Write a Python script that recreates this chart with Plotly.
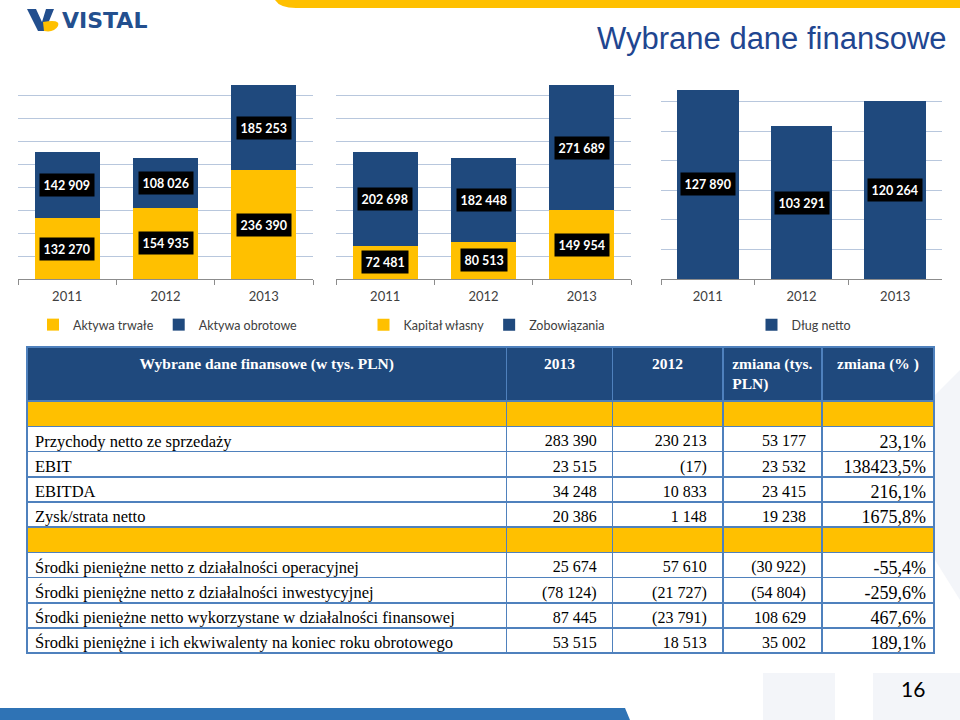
import plotly.graph_objects as go

# ---------------- data ----------------
years = ["2011", "2012", "2013"]
aktywa_trwale = [132270, 154935, 236390]
aktywa_obrotowe = [142909, 108026, 185253]
kapital_wlasny = [72481, 80513, 149954]
zobowiazania = [202698, 182448, 271689]
dlug_netto = [127890, 103291, 120264]

table_header = ["Wybrane dane finansowe (w tys. PLN)", "2013", "2012",
                "zmiana (tys.<br>PLN)", "zmiana (% )"]
row_labels = ["", "Przychody netto ze sprzedaży", "EBIT", "EBITDA", "Zysk/strata netto", "",
              "Środki pieniężne netto z działalności operacyjnej",
              "Środki pieniężne netto z działalności inwestycyjnej",
              "Środki pieniężne netto wykorzystane w działalności finansowej",
              "Środki pieniężne i ich ekwiwalenty na koniec roku obrotowego"]
col_2013 = ["", "283 390", "23 515", "34 248", "20 386", "", "25 674", "(78 124)", "87 445", "53 515"]
col_2012 = ["", "230 213", "(17)", "10 833", "1 148", "", "57 610", "(21 727)", "(23 791)", "18 513"]
col_zmiana = ["", "53 177", "23 532", "23 415", "19 238", "", "(30 922)", "(54 804)", "108 629", "35 002"]
col_zmiana_pct = ["", "23,1%", "138423,5%", "216,1%", "1675,8%", "", "-55,4%", "-259,6%", "467,6%", "189,1%"]

# ---------------- style ----------------
W, H = 960, 720
YELLOW = "#FFC000"
BLUE = "#1F497D"
GRID = "#B8C7DD"
TXT = "#404040"
SANS = "Lato, Open Sans, sans-serif"
SERIF = "Liberation Serif, Times New Roman, serif"


def px(x):
    return x / W


def py(y):
    return 1 - y / H


def fmt(v):
    return f"{v:,}".replace(",", " ")


fig = go.Figure()

# chart 1
fig.add_trace(go.Bar(x=years, y=aktywa_trwale, name="Aktywa trwałe", marker_color=YELLOW,
                     xaxis="x", yaxis="y", legend="legend"))
fig.add_trace(go.Bar(x=years, y=aktywa_obrotowe, name="Aktywa obrotowe", marker_color=BLUE,
                     xaxis="x", yaxis="y", legend="legend"))
# chart 2
fig.add_trace(go.Bar(x=years, y=kapital_wlasny, name="Kapitał własny", marker_color=YELLOW,
                     xaxis="x2", yaxis="y2", legend="legend2"))
fig.add_trace(go.Bar(x=years, y=zobowiazania, name="Zobowiązania", marker_color=BLUE,
                     xaxis="x2", yaxis="y2", legend="legend2"))
# chart 3
fig.add_trace(go.Bar(x=years, y=dlug_netto, name="Dług netto", marker_color=BLUE,
                     xaxis="x3", yaxis="y3", legend="legend3"))

for tr in fig.data:
    tr.marker.line.width = 0
    tr.width = 0.66

# data labels (black boxes)
annotations = []


def add_labels(xref, yref, stacks):
    base = [0] * len(years)
    for series in stacks:
        for i, v in enumerate(series):
            annotations.append(dict(
                x=i, y=base[i] + v / 2, xref=xref, yref=yref,
                text=f"<b>{fmt(v)}</b>", showarrow=False,
                font=dict(family=SANS, size=12.5, color="white"),
                bgcolor="black", borderpad=3.5))
            base[i] += v


add_labels("x", "y", [aktywa_trwale, aktywa_obrotowe])
add_labels("x2", "y2", [kapital_wlasny, zobowiazania])
add_labels("x3", "y3", [dlug_netto])

ydom = [py(279), py(72)]
xdoms = [[px(18), px(313)], [px(336), px(631)], [px(661), px(942)]]
yranges = [[0, 450000], [0, 450000], [0, 140000]]
dticks = [50000, 50000, 20000]

layout_axes = {}
for k in range(3):
    sfx = "" if k == 0 else str(k + 1)
    layout_axes["xaxis" + sfx] = dict(
        domain=xdoms[k], anchor="y" + sfx, type="category",
        range=[-0.5, len(years) - 0.5],
        showline=True, linecolor="#8C8C8C", linewidth=1,
        ticks="outside", tickson="boundaries", ticklen=5, tickcolor="#8C8C8C",
        ticklabelstandoff=5,
        tickfont=dict(family=SANS, size=13, color=TXT), tickangle=0,
        showgrid=False, fixedrange=True)
    layout_axes["yaxis" + sfx] = dict(
        domain=ydom, anchor="x" + sfx, range=yranges[k], dtick=dticks[k],
        showticklabels=False, showgrid=True, gridcolor=GRID, gridwidth=1,
        zeroline=False, showline=False, fixedrange=True)

legend_common = dict(orientation="h", xanchor="center", yanchor="middle",
                     traceorder="normal",
                     bgcolor="rgba(0,0,0,0)", font=dict(family=SANS, size=12.5, color=TXT),
                     itemwidth=30, tracegroupgap=0)

# ---------------- table ----------------
def pad(s):
    return s + "\u00a0\u00a0" if s else s


row_fill = [YELLOW if lbl == "" else "white" for lbl in row_labels]
col_font_sizes = [16.5, 16, 16, 16, 18]
fig.add_trace(go.Table(
    domain=dict(x=[px(27), px(934)], y=[py(657), py(347)]),
    columnwidth=[479, 106, 110, 99, 112],
    header=dict(values=[f"<b>{h}</b>" for h in table_header],
                fill_color=BLUE, line=dict(color="#4F81BD", width=1.5),
                align="center", height=45,
                font=dict(family=SERIF, size=15.5, color="white")),
    cells=dict(values=[row_labels,
                       [pad(v) for v in col_2013],
                       [pad(v) for v in col_2012],
                       [pad(v) for v in col_zmiana],
                       col_zmiana_pct],
               fill_color=[row_fill] * 5,
               line=dict(color="#4F81BD", width=1.5),
               align=["left", "right", "right", "right", "right"],
               height=25.2,
               font=dict(family=SERIF, size=col_font_sizes, color="black"))
))

# ---------------- decorations ----------------
shapes = []
# faint watermark
wm = "#F3F5F9"
shapes.append(dict(type="rect", xref="paper", yref="paper", x0=px(763), x1=px(835),
                   y0=py(720), y1=py(673), fillcolor=wm, line_width=0, layer="below"))
shapes.append(dict(type="rect", xref="paper", yref="paper", x0=px(873), x1=px(960),
                   y0=py(720), y1=py(673), fillcolor=wm, line_width=0, layer="below"))
shapes.append(dict(type="path", xref="paper", yref="paper",
                   path=f"M{px(935)},{py(395)} L{px(960)},{py(370)} L{px(960)},{py(600)} L{px(935)},{py(560)} Z",
                   fillcolor=wm, line_width=0, layer="below"))
# top yellow band
shapes.append(dict(type="path", xref="paper", yref="paper",
                   path=f"M{px(275)},{py(0)} Q{px(280)},{py(8)} {px(296)},{py(8)} L{px(960)},{py(8)} L{px(960)},{py(0)} Z",
                   fillcolor=YELLOW, line_width=0))
# bottom blue stripe
shapes.append(dict(type="path", xref="paper", yref="paper",
                   path=f"M{px(0)},{py(708)} L{px(625)},{py(708)} L{px(630)},{py(720)} L{px(0)},{py(720)} Z",
                   fillcolor="#2F73B5", line_width=0))
# logo icon: V shape + yellow swoosh
shapes.append(dict(type="path", xref="paper", yref="paper",
                   path=f"M{px(27)},{py(9)} L{px(36)},{py(9)} L{px(42)},{py(22)} L{px(46)},{py(9)} L{px(54)},{py(9)} L{px(45)},{py(31)} L{px(38)},{py(31)} Z",
                   fillcolor="#234F8E", line_width=0))
shapes.append(dict(type="path", xref="paper", yref="paper",
                   path=f"M{px(43)},{py(22)} Q{px(61)},{py(19)} {px(58)},{py(26)} Q{px(54)},{py(33)} {px(44)},{py(31)} Z",
                   fillcolor=YELLOW, line_width=0))

annotations.append(dict(x=px(60), y=py(20), xref="paper", yref="paper", xanchor="left",
                        yanchor="middle", showarrow=False,
                        text="<b>VISTAL</b>",
                        font=dict(family="DejaVu Sans", size=22, color="#234F8E")))
annotations.append(dict(x=px(949), y=py(38), xref="paper", yref="paper", xanchor="right",
                        yanchor="middle", showarrow=False,
                        text="Wybrane dane finansowe",
                        font=dict(family="Liberation Sans, Arial, sans-serif", size=31, color="#1F4690")))
annotations.append(dict(x=px(927), y=py(688), xref="paper", yref="paper", xanchor="right",
                        yanchor="middle", showarrow=False, text="16",
                        font=dict(family=SANS, size=21, color="black")))

fig.update_layout(
    width=W, height=H, margin=dict(l=0, r=0, t=0, b=0),
    paper_bgcolor="white", plot_bgcolor="rgba(0,0,0,0)",
    barmode="stack", showlegend=True,
    legend=dict(x=px(168), y=py(325), **legend_common),
    legend2=dict(x=px(487), y=py(325), **legend_common),
    legend3=dict(x=px(804), y=py(325), **legend_common),
    annotations=annotations, shapes=shapes,
    **layout_axes,
)

fig.write_html("out.html", config={"displayModeBar": False},
               post_script="document.body.style.margin='0';")
